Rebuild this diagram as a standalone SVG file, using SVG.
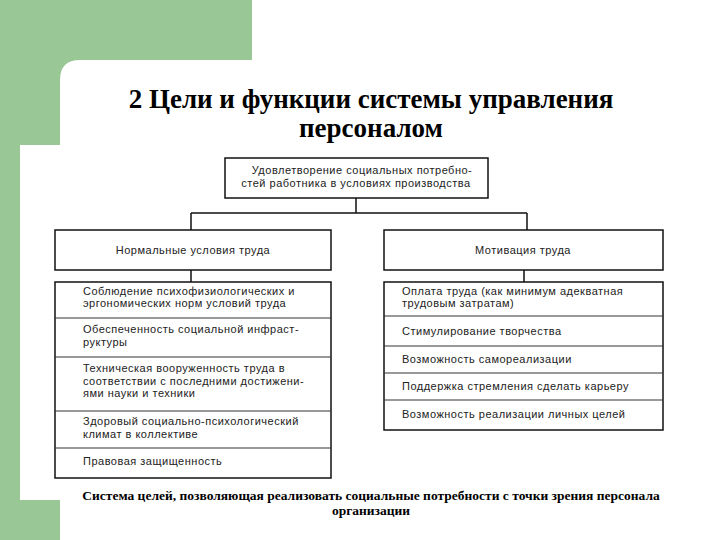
<svg xmlns="http://www.w3.org/2000/svg" width="720" height="540" viewBox="0 0 720 540">
<style>
.b{fill:#fff;stroke:#111;stroke-width:1.5}
.t{font-family:"Liberation Sans",Arial,sans-serif;font-size:11px;letter-spacing:0.5px;fill:#222}
.c{stroke:#111;stroke-width:1.5;fill:none}
.d{stroke:#333;stroke-width:1}
.h{font-family:"Liberation Serif","Times New Roman",serif;font-weight:bold;fill:#000;text-anchor:middle}
</style>
<rect width="720" height="540" fill="#fff"/>
<path d="M0 0H252V60H80Q60 60 60 80V145H20V500H60V540H0Z" fill="#99c896"/>
<text class="h" x="371" y="108" font-size="27">2 Цели и функции системы управления</text>
<text class="h" x="371" y="137" font-size="27">персоналом</text>
<g id="connectors">
<path class="c" d="M356 198V213M191 213H527M191 213V230M527 213V230M191 270V282M524 270V282"/>
</g>
<g id="top"><rect class="b" x="225" y="158" width="263" height="40"/>
<text class="t" x="362" y="174" text-anchor="middle">Удовлетворение социальных потребно-</text>
<text class="t" x="356" y="187" text-anchor="middle">стей работника в условиях производства</text></g>
<g id="left-head"><rect class="b" x="55" y="230" width="276" height="40"/>
<text class="t" x="193" y="254" text-anchor="middle">Нормальные условия труда</text></g>
<g id="right-head"><rect class="b" x="384" y="230" width="279" height="40"/>
<text class="t" x="523" y="254" text-anchor="middle">Мотивация труда</text></g>
<g id="left-list"><rect class="b" x="55" y="282" width="276" height="196"/>
<path class="d" d="M55 318H331M55 357H331M55 411H331M55 448H331"/>
<text class="t" x="83" y="295">Соблюдение психофизиологических и</text>
<text class="t" x="83" y="307">эргономических норм условий труда</text>
<text class="t" x="83" y="333">Обеспеченность социальной инфраст-</text>
<text class="t" x="83" y="346">руктуры</text>
<text class="t" x="83" y="372">Техническая вооруженность труда в</text>
<text class="t" x="83" y="385">соответствии с последними достижени-</text>
<text class="t" x="83" y="397">ями науки и техники</text>
<text class="t" x="83" y="425">Здоровый социально-психологический</text>
<text class="t" x="83" y="438">климат в коллективе</text>
<text class="t" x="83" y="465">Правовая защищенность</text></g>
<g id="right-list"><rect class="b" x="384" y="282" width="279" height="148"/>
<path class="d" d="M384 316H663M384 346H663M384 373H663M384 400H663"/>
<text class="t" x="402" y="295">Оплата труда (как минимум адекватная</text>
<text class="t" x="402" y="307">трудовым затратам)</text>
<text class="t" x="402" y="335">Стимулирование творчества</text>
<text class="t" x="402" y="363">Возможность самореализации</text>
<text class="t" x="402" y="390">Поддержка стремления сделать карьеру</text>
<text class="t" x="402" y="418">Возможность реализации личных целей</text></g>
<text class="h" x="371" y="500" font-size="13.5">Система целей, позволяющая реализовать социальные потребности с точки зрения персонала</text>
<text class="h" x="371" y="515" font-size="13.5">организации</text>
</svg>
